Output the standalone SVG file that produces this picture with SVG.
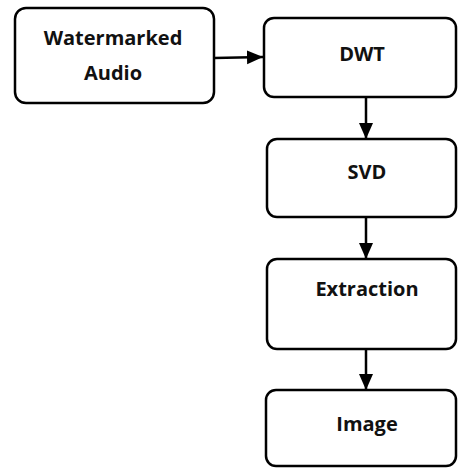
<svg xmlns="http://www.w3.org/2000/svg" width="460" height="468" viewBox="0 0 460 468">
<style>
.box{fill:#fff;stroke:#000;stroke-width:2.5}
.t{font-family:"Open Sans","Liberation Sans",sans-serif;font-weight:bold;font-size:20px;fill:#111;text-anchor:middle}
.c{stroke:#000;stroke-width:2.5;fill:none}
</style>
<defs>
<marker id="ah" viewBox="0 0 16 16" refX="16" refY="8" markerWidth="16" markerHeight="16" orient="auto" markerUnits="userSpaceOnUse">
<path d="M0,1 L16,8 L0,15 z" fill="#000"/>
</marker>
</defs>
<rect width="460" height="468" fill="#fff"/>
<g id="connectors">
<line class="c" x1="214" y1="58" x2="263" y2="57" marker-end="url(#ah)"/>
<line class="c" x1="366" y1="97" x2="366" y2="139" marker-end="url(#ah)"/>
<line class="c" x1="366" y1="217" x2="366" y2="259" marker-end="url(#ah)"/>
<line class="c" x1="366" y1="349" x2="366" y2="390" marker-end="url(#ah)"/>
</g>
<g id="watermarked-audio">
<rect class="box" x="15" y="8" width="199" height="95" rx="11"/>
<text class="t" x="113" y="45">Watermarked</text>
<text class="t" x="113" y="80">Audio</text>
</g>
<g id="dwt">
<rect class="box" x="264" y="18" width="192" height="79" rx="10"/>
<text class="t" x="362" y="61">DWT</text>
</g>
<g id="svd">
<rect class="box" x="267" y="139" width="189" height="78" rx="10"/>
<text class="t" x="367" y="179">SVD</text>
</g>
<g id="extraction">
<rect class="box" x="267" y="259" width="189" height="90" rx="10"/>
<text class="t" x="367" y="296">Extraction</text>
</g>
<g id="image">
<rect class="box" x="266" y="390" width="190" height="76" rx="10"/>
<text class="t" x="367" y="431">Image</text>
</g>
</svg>
